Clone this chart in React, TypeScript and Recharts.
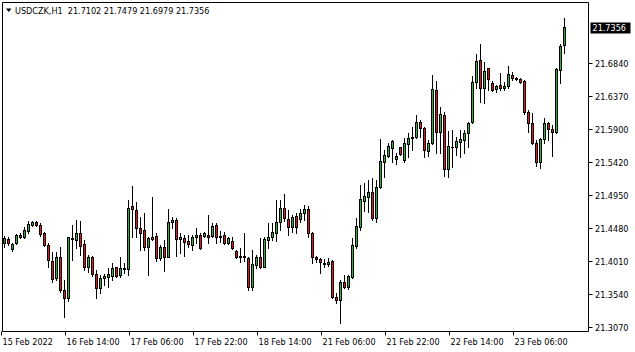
import { ComposedChart, Bar, XAxis, YAxis, ReferenceArea } from 'recharts';

// USDCZK H1 candles, oldest first
const OPEN = [
  21.4280, 21.4333, 21.4191, 21.4276, 21.4395, 21.4362, 21.4456, 21.4533, 21.4580, 21.4541,
  21.4427, 21.4248, 21.4029, 21.3778, 21.4077, 21.3611, 21.3493, 21.4348, 21.4323, 21.4427,
  21.4266, 21.3943, 21.4077, 21.3839, 21.3636, 21.3778, 21.3801, 21.3811, 21.3935, 21.3825,
  21.3906, 21.3906, 21.4808, 21.4751, 21.4490, 21.4466, 21.4219, 21.4362, 21.4380, 21.4063,
  21.4219, 21.4086, 21.4575, 21.4608, 21.4333, 21.4348, 21.4313, 21.4252, 21.4362, 21.4395,
  21.4380, 21.4395, 21.4380, 21.4537, 21.4380, 21.4395, 21.4285, 21.4313, 21.4167, 21.4096,
  21.4096, 21.4063, 21.3658, 21.3967, 21.4086, 21.3943, 21.4323, 21.4362, 21.4427, 21.4584,
  21.4775, 21.4618, 21.4504, 21.4665, 21.4618, 21.4704, 21.4761, 21.4419, 21.4077, 21.4053,
  21.4000, 21.3982, 21.4024, 21.3516, 21.3469, 21.3721, 21.3650, 21.3792, 21.4238, 21.4513,
  21.4883, 21.4940, 21.5011, 21.4632, 21.5082, 21.5438, 21.5520, 21.5629, 21.5473, 21.5643,
  21.5463, 21.5690, 21.5772, 21.5794, 21.6008, 21.5914, 21.5595, 21.5700, 21.6459, 21.5866,
  21.6103, 21.5330, 21.5652, 21.5652, 21.5723, 21.5747, 21.5843, 21.5999, 21.6569, 21.6887,
  21.6484, 21.6768, 21.6555, 21.6474, 21.6531, 21.6484, 21.6521, 21.6673, 21.6626, 21.6616,
  21.6588, 21.6150, 21.5985, 21.5700, 21.5438, 21.5762, 21.5985, 21.5904, 21.5857, 21.6744,
  21.7102,
];
const HIGH = [
  21.4380, 21.4362, 21.4285, 21.4405, 21.4419, 21.4513, 21.4594, 21.4598, 21.4598, 21.4561,
  21.4442, 21.4276, 21.4157, 21.4157, 21.4228, 21.3754, 21.4370, 21.4537, 21.4608, 21.4598,
  21.4323, 21.4110, 21.4096, 21.3896, 21.3825, 21.3839, 21.3920, 21.3992, 21.3943, 21.4077,
  21.3992, 21.4893, 21.5092, 21.4869, 21.4655, 21.4704, 21.4370, 21.4940, 21.4419, 21.4252,
  21.4323, 21.4761, 21.4655, 21.4632, 21.4419, 21.4395, 21.4395, 21.4395, 21.4490, 21.4419,
  21.4442, 21.4679, 21.4561, 21.4561, 21.4456, 21.4442, 21.4370, 21.4370, 21.4181, 21.4205,
  21.4427, 21.4086, 21.4181, 21.4110, 21.4348, 21.4370, 21.4561, 21.4561, 21.4893, 21.4893,
  21.4978, 21.4751, 21.4679, 21.4704, 21.4761, 21.4822, 21.4808, 21.4442, 21.4096, 21.4063,
  21.4049, 21.4063, 21.4039, 21.3564, 21.3754, 21.3825, 21.3825, 21.4348, 21.4632, 21.5107,
  21.5131, 21.5178, 21.5202, 21.5178, 21.5757, 21.5605, 21.5700, 21.5747, 21.5558, 21.5652,
  21.5772, 21.5843, 21.5937, 21.6103, 21.6032, 21.5937, 21.5747, 21.6673, 21.6592, 21.6222,
  21.6150, 21.5880, 21.5890, 21.5794, 21.5890, 21.5890, 21.6008, 21.6663, 21.6968, 21.7110,
  21.6862, 21.6777, 21.6588, 21.6531, 21.6697, 21.6578, 21.6801, 21.6720, 21.6649, 21.6626,
  21.6602, 21.6175, 21.6128, 21.5747, 21.5780, 21.6065, 21.6008, 21.5961, 21.6768, 21.7110,
  21.7479,
];
const LOW = [
  21.4224, 21.4252, 21.4171, 21.4266, 21.4348, 21.4348, 21.4419, 21.4523, 21.4527, 21.4380,
  21.4238, 21.3943, 21.3730, 21.3754, 21.3587, 21.3231, 21.3459, 21.4039, 21.4205, 21.4110,
  21.3896, 21.3872, 21.3811, 21.3493, 21.3564, 21.3683, 21.3658, 21.3754, 21.3792, 21.3801,
  21.3849, 21.3825, 21.4370, 21.4370, 21.4181, 21.4181, 21.3825, 21.4323, 21.4029, 21.4039,
  21.3886, 21.4077, 21.4490, 21.4096, 21.4134, 21.4096, 21.4228, 21.4181, 21.4276, 21.4191,
  21.4370, 21.4276, 21.4362, 21.4285, 21.4299, 21.4266, 21.4266, 21.4191, 21.4063, 21.4014,
  21.4029, 21.3611, 21.3611, 21.3920, 21.3920, 21.3935, 21.4205, 21.4323, 21.4313, 21.4466,
  21.4598, 21.4395, 21.4442, 21.4427, 21.4584, 21.4608, 21.4370, 21.3992, 21.4014, 21.3849,
  21.3943, 21.3953, 21.3493, 21.3422, 21.3137, 21.3636, 21.3621, 21.3778, 21.4205, 21.4466,
  21.4741, 21.4726, 21.4608, 21.4584, 21.5060, 21.5225, 21.5501, 21.5438, 21.5406, 21.5534,
  21.5438, 21.5510, 21.5605, 21.5772, 21.5794, 21.5510, 21.5520, 21.5690, 21.5558, 21.5558,
  21.5235, 21.5225, 21.5359, 21.5534, 21.5510, 21.5558, 21.5652, 21.5985, 21.6492, 21.6293,
  21.6270, 21.6459, 21.6445, 21.6435, 21.6459, 21.6459, 21.6484, 21.6602, 21.6602, 21.6555,
  21.6113, 21.5857, 21.5686, 21.5381, 21.5344, 21.5700, 21.5747, 21.5524, 21.5843, 21.6555,
  21.6979,
];
const CLOSE = [
  21.4352, 21.4276, 21.4266, 21.4395, 21.4362, 21.4466, 21.4551, 21.4580, 21.4541, 21.4409,
  21.4248, 21.4039, 21.3764, 21.4077, 21.3611, 21.3493, 21.4362, 21.4333, 21.4427, 21.4238,
  21.3943, 21.4086, 21.3839, 21.3636, 21.3778, 21.3811, 21.3839, 21.3920, 21.3811, 21.3920,
  21.3920, 21.4775, 21.4761, 21.4490, 21.4427, 21.4219, 21.4348, 21.4338, 21.4063, 21.4219,
  21.4086, 21.4584, 21.4608, 21.4333, 21.4362, 21.4299, 21.4266, 21.4362, 21.4395, 21.4205,
  21.4419, 21.4370, 21.4523, 21.4362, 21.4370, 21.4285, 21.4348, 21.4205, 21.4077, 21.4086,
  21.4077, 21.3658, 21.3982, 21.4086, 21.3935, 21.4333, 21.4370, 21.4442, 21.4584, 21.4775,
  21.4632, 21.4504, 21.4647, 21.4504, 21.4704, 21.4761, 21.4419, 21.4086, 21.4049, 21.4014,
  21.3977, 21.4014, 21.3507, 21.3469, 21.3721, 21.3650, 21.3811, 21.4252, 21.4523, 21.4903,
  21.4950, 21.5011, 21.4632, 21.5074, 21.5453, 21.5534, 21.5662, 21.5737, 21.5520, 21.5544,
  21.5709, 21.5772, 21.5794, 21.6008, 21.5914, 21.5605, 21.5709, 21.6469, 21.5866, 21.6118,
  21.5330, 21.5662, 21.5643, 21.5737, 21.5757, 21.5851, 21.5994, 21.6569, 21.6872, 21.6484,
  21.6730, 21.6612, 21.6455, 21.6516, 21.6492, 21.6516, 21.6683, 21.6626, 21.6616, 21.6578,
  21.6150, 21.5985, 21.5700, 21.5438, 21.5762, 21.5985, 21.5904, 21.5866, 21.6758, 21.7090,
  21.7356,
];

// one time label every 16 bars
const TICK_LABELS = [
  '15 Feb 2022', '16 Feb 14:00', '17 Feb 06:00', '17 Feb 22:00', '18 Feb 14:00',
  '21 Feb 06:00', '21 Feb 22:00', '22 Feb 14:00', '23 Feb 06:00',
];
const TICK_STEP = 16;
const PRICE_TICKS = [21.307, 21.354, 21.401, 21.448, 21.495, 21.542, 21.59, 21.637, 21.684];
const SYMBOL = 'USDCZK,H1';
const Y_MIN = 21.302;
const Y_MAX = 21.7705;

const W = 635;
const H = 352;
const PLOT_LEFT = 2.5;
const PLOT_TOP = 2.5;
const PLOT_RIGHT = 588.5;
const PLOT_BOTTOM = 331.5;
const BULL = '#2bb33f';
const BEAR = '#e3141d';
const FONT = "'DejaVu Sans Condensed', 'Liberation Sans', sans-serif";

const data = OPEN.map((o, i) => ({
  i,
  o,
  h: HIGH[i],
  l: LOW[i],
  c: CLOSE[i],
  range: [LOW[i], HIGH[i]],
}));
const last = data[data.length - 1];
const fmt = (v: number) => v.toFixed(4);

function Candle(props: any) {
  const { x, y, width, height, payload } = props;
  if (!payload) return null;
  const { o, h, l, c } = payload;
  const top = Math.min(y, y + height);
  const bot = Math.max(y, y + height);
  const span = h - l;
  const py = (v: number) => (span > 0 ? top + ((h - v) / span) * (bot - top) : top);
  const cx = Math.round(x + width / 2 - 0.5) + 0.5;
  const b1 = Math.round(py(Math.max(o, c)));
  const b2 = Math.round(py(Math.min(o, c)));
  return (
    <g>
      <line x1={cx} x2={cx} y1={Math.round(top)} y2={Math.round(bot) + 1} stroke="#000" />
      {b2 > b1 ? (
        <rect x={cx - 1} y={b1 + 0.5} width={2} height={b2 - b1} fill={c >= o ? BULL : BEAR} stroke="#000" />
      ) : (
        <line x1={cx - 1.5} x2={cx + 1.5} y1={b1 + 0.5} y2={b1 + 0.5} stroke="#000" />
      )}
    </g>
  );
}

function TimeTick(props: any) {
  const { x, payload } = props;
  const cx = Math.round(x - 0.5) + 0.5;
  const label = TICK_LABELS[payload.value / TICK_STEP];
  return (
    <g>
      <line x1={cx - 2} x2={cx - 2} y1={PLOT_BOTTOM} y2={PLOT_BOTTOM + 4} stroke="#000" />
      <text x={cx - 1} y={344.5} fontSize={9} fontFamily={FONT} fill="#000">
        {label}
      </text>
    </g>
  );
}

function PriceTick(props: any) {
  const { y, payload } = props;
  const py = Math.round(y - 0.5) + 0.5;
  if (payload.value === last.c) {
    return (
      <g>
        <rect x={590.5} y={py - 5} width={40} height={11} fill="#000" />
        <text x={592.5} y={py + 3.5} fontSize={9} fontFamily={FONT} fill="#fff">
          {fmt(payload.value)}
        </text>
      </g>
    );
  }
  return (
    <g>
      <line x1={PLOT_RIGHT} x2={PLOT_RIGHT + 4} y1={py} y2={py} stroke="#000" />
      <text x={595} y={py + 3.5} fontSize={9} fontFamily={FONT} fill="#000">
        {fmt(payload.value)}
      </text>
    </g>
  );
}

export default function App() {
  return (
    <div style={{ position: 'absolute', left: 0, top: 0, width: W, height: H, background: '#fff' }}>
      <ComposedChart
        width={W}
        height={H}
        data={data}
        margin={{ top: PLOT_TOP, left: PLOT_LEFT, right: 0, bottom: 0 }}
      >
        <XAxis
          xAxisId="time"
          dataKey="i"
          type="category"
          ticks={TICK_LABELS.map((_, k) => k * TICK_STEP)}
          interval={0}
          tick={<TimeTick />}
          axisLine={false}
          tickLine={false}
          height={H - PLOT_BOTTOM}
          padding={{ left: -1, right: 23 }}
        />
        {/* unpadded twin axis, only used to stretch the frame over the whole plot */}
        <XAxis xAxisId="frame" dataKey="i" type="category" hide />
        <YAxis
          yAxisId="price"
          orientation="right"
          type="number"
          domain={[Y_MIN, Y_MAX]}
          allowDataOverflow
          ticks={[...PRICE_TICKS, last.c]}
          interval={0}
          tick={<PriceTick />}
          axisLine={false}
          tickLine={false}
          width={W - PLOT_RIGHT}
        />
        <Bar
          xAxisId="time"
          yAxisId="price"
          dataKey="range"
          barSize={3}
          shape={<Candle />}
          isAnimationActive={false}
        />
        <ReferenceArea
          xAxisId="frame"
          yAxisId="price"
          y1={Y_MIN}
          y2={Y_MAX}
          fill="none"
          stroke="#000"
          strokeWidth={1}
          ifOverflow="visible"
        />
      </ComposedChart>
      <svg width={300} height={20} style={{ position: 'absolute', left: 0, top: 0 }}>
        <polygon points="6,8.5 11.5,8.5 8.75,12" fill="#000" />
        <text x={15} y={13.5} fontSize={9} fontFamily={FONT} fill="#000" style={{ whiteSpace: 'pre' }}>
          {`${SYMBOL}  ${fmt(last.o)} ${fmt(last.h)} ${fmt(last.l)} ${fmt(last.c)}`}
        </text>
      </svg>
    </div>
  );
}
